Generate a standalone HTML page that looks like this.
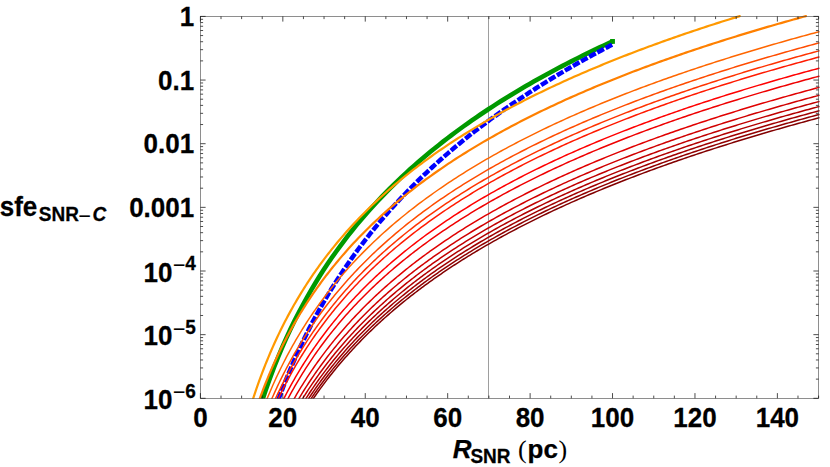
<!DOCTYPE html>
<html><head><meta charset="utf-8"><title>chart</title><style>html,body{margin:0;padding:0;background:#fff}svg{display:block}.t{font-family:"Liberation Sans",sans-serif}.t .s{font-family:"Liberation Serif",serif}</style></head><body>
<svg width="830" height="467" viewBox="0 0 830 467">
<rect width="830" height="467" fill="#fff"/>
<defs><clipPath id="cp"><rect x="199.40" y="15.10" width="620.30" height="383.70"/></clipPath></defs>
<line x1="488.50" y1="16.40" x2="488.50" y2="398.30" stroke="#9e9e9e" stroke-width="1"/>
<g clip-path="url(#cp)" fill="none">
<path d="M261.68 402.08 L265.81 389.76 L269.93 378.20 L274.05 367.30 L278.17 357.00 L282.29 347.22 L286.41 337.93 L290.53 329.08 L294.65 320.61 L298.78 312.52 L302.90 304.75 L307.02 297.29 L311.14 290.11 L315.26 283.20 L319.38 276.53 L323.50 270.08 L327.63 263.85 L331.75 257.82 L335.87 251.97 L339.99 246.30 L344.11 240.79 L348.23 235.44 L352.35 230.24 L356.47 225.17 L360.60 220.24 L364.72 215.43 L368.84 210.75 L372.96 206.17 L377.08 201.70 L381.20 197.34 L385.32 193.08 L389.45 188.90 L393.57 184.82 L397.69 180.83 L401.81 176.92 L405.93 173.08 L410.05 169.32 L414.17 165.64 L418.29 162.03 L422.42 158.48 L426.54 155.00 L430.66 151.58 L434.78 148.23 L438.90 144.93 L443.02 141.68 L447.14 138.50 L451.27 135.36 L455.39 132.28 L459.51 129.24 L463.63 126.26 L467.75 123.32 L471.87 120.42 L475.99 117.57 L480.11 114.76 L484.24 111.99 L488.36 109.27 L492.48 106.58 L496.60 103.93 L500.72 101.31 L504.84 98.73 L508.96 96.19 L513.09 93.68 L517.21 91.20 L521.33 88.75 L525.45 86.34 L529.57 83.95 L533.69 81.60 L537.81 79.27 L541.93 76.97 L546.06 74.70 L550.18 72.46 L554.30 70.24 L558.42 68.05 L562.54 65.89 L566.66 63.75 L570.78 61.63 L574.91 59.53 L579.03 57.46 L583.15 55.41 L587.27 53.39 L591.39 51.38 L595.51 49.40 L599.63 47.43 L603.75 45.49 L607.88 43.57 L612.00 41.66 L612.53 41.42" stroke="#009900" stroke-width="4.6"/>
<rect x="610.13" y="39.02" width="4.8" height="4.8" fill="#009900"/>
<path d="M277.68 401.69 L279.74 396.07 L281.80 390.60 L283.86 385.26 L285.92 380.06 L287.98 374.98 L290.04 370.01 L292.10 365.16 L294.16 360.42 L296.22 355.78 L298.28 351.24 L300.34 346.80 L302.40 342.44 L304.46 338.17 L306.52 333.99 L308.59 329.88 L310.65 325.86 L312.71 321.90 L314.77 318.02 L316.83 314.21 L318.89 310.47 L320.95 306.79 L323.01 303.17 L325.07 299.62 L327.13 296.12 L329.19 292.68 L331.25 289.29 L333.31 285.95 L335.37 282.67 L337.43 279.44 L339.50 276.25 L341.56 273.11 L343.62 270.02 L345.68 266.97 L347.74 263.97 L349.80 261.00 L351.86 258.08 L353.92 255.20 L355.98 252.35 L358.04 249.54 L360.10 246.77 L362.16 244.03 L364.22 241.33 L366.28 238.67 L368.34 236.03 L370.40 233.43 L372.47 230.86 L374.53 228.32 L376.59 225.81 L378.65 223.32 L380.71 220.87 L382.77 218.45 L384.83 216.05 L386.89 213.68 L388.95 211.33 L391.01 209.01 L393.07 206.72 L395.13 204.45 L397.19 202.20 L399.25 199.98 L401.31 197.78 L403.38 195.60 L405.44 193.45 L407.50 191.31 L409.56 189.20 L411.62 187.11 L413.68 185.03 L415.74 182.98 L417.80 180.95 L419.86 178.94 L421.92 176.94 L423.98 174.97 L426.04 173.01 L428.10 171.07 L430.16 169.15 L432.23 167.24 L434.29 165.35 L436.35 163.48 L438.41 161.62 L440.47 159.78 L442.53 157.96 L444.59 156.15 L446.65 154.36 L448.71 152.58 L450.77 150.82 L452.83 149.07 L454.89 147.33 L456.95 145.61 L459.01 143.90 L461.07 142.21 L463.13 140.53 L465.20 138.86 L467.26 137.21 L469.32 135.57 L471.38 133.94 L473.44 132.32 L475.50 130.72 L477.56 129.12 L479.62 127.54 L481.68 125.97 L483.74 124.42 L485.80 122.87 L487.86 121.34 L489.92 119.81 L491.98 118.30 L494.04 116.79 L496.11 115.30 L498.17 113.82 L500.23 112.35 L502.29 110.89 L504.35 109.44 L506.41 107.99 L508.47 106.56 L510.53 105.14 L512.59 103.72 L514.65 102.32 L516.71 100.93 L518.77 99.54 L520.83 98.16 L522.89 96.80 L524.96 95.44 L527.02 94.09 L529.08 92.74 L531.14 91.41 L533.20 90.08 L535.26 88.77 L537.32 87.46 L539.38 86.16 L541.44 84.86 L543.50 83.58 L545.56 82.30 L547.62 81.03 L549.68 79.77 L551.74 78.51 L553.80 77.26 L555.87 76.02 L557.93 74.79 L559.99 73.56 L562.05 72.34 L564.11 71.13 L566.17 69.93 L568.23 68.73 L570.29 67.53 L572.35 66.35 L574.41 65.17 L576.47 64.00 L578.53 62.83 L580.59 61.67 L582.65 60.52 L584.71 59.37 L586.77 58.23 L588.84 57.09 L590.90 55.96 L592.96 54.84 L595.02 53.72 L597.08 52.61 L599.14 51.51 L601.20 50.41 L603.26 49.31 L605.32 48.22 L607.38 47.14 L609.44 46.06 L611.50 44.99 L612.53 44.46" stroke="#0000ff" stroke-width="4.5" stroke-dasharray="7.45 1.84" stroke-dashoffset="7.1"/>
<path d="M251.96 402.30 L253.46 397.64 L254.96 393.11 L256.46 388.70 L257.96 384.40 L259.46 380.22 L260.96 376.13 L262.46 372.14 L263.96 368.25 L265.46 364.45 L266.96 360.73 L268.46 357.09 L269.96 353.53 L271.46 350.05 L272.96 346.64 L274.46 343.29 L275.96 340.02 L277.46 336.80 L278.96 333.65 L280.46 330.55 L281.96 327.52 L283.46 324.53 L284.96 321.60 L286.46 318.72 L287.96 315.89 L289.46 313.11 L290.96 310.38 L292.46 307.68 L293.96 305.03 L295.46 302.43 L296.96 299.86 L298.46 297.33 L299.96 294.84 L301.46 292.39 L302.96 289.97 L304.46 287.59 L305.96 285.24 L307.46 282.92 L308.96 280.64 L310.46 278.38 L311.96 276.16 L313.46 273.97 L314.96 271.80 L316.46 269.66 L317.96 267.55 L319.46 265.47 L320.96 263.41 L322.46 261.38 L323.96 259.37 L325.46 257.39 L326.96 255.43 L328.46 253.49 L329.96 251.58 L331.46 249.68 L333.96 246.58 L336.46 243.52 L338.96 240.53 L341.46 237.59 L343.96 234.69 L346.46 231.85 L348.96 229.06 L351.46 226.31 L353.96 223.61 L356.46 220.95 L358.96 218.33 L361.46 215.75 L363.96 213.22 L366.46 210.72 L368.96 208.25 L371.46 205.83 L373.96 203.44 L376.46 201.08 L378.96 198.76 L381.46 196.46 L383.96 194.20 L386.46 191.97 L388.96 189.77 L391.46 187.60 L393.96 185.46 L396.46 183.34 L398.96 181.25 L401.46 179.19 L403.96 177.15 L406.46 175.13 L408.96 173.14 L411.46 171.18 L413.96 169.24 L416.46 167.31 L418.96 165.42 L421.46 163.54 L423.96 161.68 L426.46 159.85 L428.96 158.03 L431.46 156.24 L433.96 154.46 L436.46 152.70 L438.96 150.96 L441.46 149.24 L443.96 147.54 L446.46 145.85 L448.96 144.18 L451.46 142.53 L453.96 140.89 L456.46 139.27 L458.96 137.67 L461.46 136.08 L463.96 134.51 L466.46 132.95 L468.96 131.40 L471.46 129.87 L473.96 128.35 L476.46 126.85 L478.96 125.36 L481.46 123.89 L483.96 122.42 L486.46 120.97 L488.96 119.54 L491.46 118.11 L493.96 116.70 L496.46 115.30 L498.96 113.91 L501.46 112.53 L503.96 111.16 L506.46 109.81 L508.96 108.46 L511.46 107.13 L513.96 105.80 L516.46 104.49 L518.96 103.19 L521.46 101.90 L523.96 100.62 L526.46 99.34 L528.96 98.08 L531.46 96.83 L533.96 95.58 L536.46 94.35 L538.96 93.12 L541.46 91.91 L543.96 90.70 L546.46 89.50 L548.96 88.31 L551.46 87.13 L553.96 85.96 L556.46 84.79 L558.96 83.64 L561.46 82.49 L563.96 81.35 L566.46 80.21 L568.96 79.09 L571.46 77.97 L573.96 76.86 L576.46 75.76 L578.96 74.66 L581.46 73.57 L583.96 72.49 L586.46 71.42 L588.96 70.35 L591.46 69.29 L593.96 68.23 L596.46 67.19 L598.96 66.14 L601.46 65.11 L603.96 64.08 L606.46 63.06 L608.96 62.05 L611.46 61.04 L613.96 60.03 L616.46 59.04 L618.96 58.05 L621.46 57.06 L623.96 56.08 L626.46 55.11 L628.96 54.14 L631.46 53.18 L633.96 52.22 L636.46 51.27 L638.96 50.32 L641.46 49.38 L643.96 48.45 L646.46 47.52 L648.96 46.59 L651.46 45.67 L653.96 44.76 L656.46 43.85 L658.96 42.95 L661.46 42.05 L663.96 41.15 L666.46 40.26 L668.96 39.38 L671.46 38.50 L673.96 37.62 L676.46 36.75 L678.96 35.88 L681.46 35.02 L683.96 34.16 L686.46 33.31 L688.96 32.46 L691.46 31.61 L693.96 30.77 L696.46 29.94 L698.96 29.11 L701.46 28.28 L703.96 27.45 L706.46 26.64 L708.96 25.82 L711.46 25.01 L713.96 24.20 L716.46 23.40 L718.96 22.60 L721.46 21.80 L723.96 21.01 L726.46 20.22 L728.96 19.44 L731.46 18.65 L733.96 17.88 L736.46 17.10 L738.96 16.33 L739.72 16.10" stroke="#ff9900" stroke-width="2.2" stroke-linecap="round"/>
<path d="M258.41 402.30 L259.91 398.14 L261.41 394.09 L262.91 390.13 L264.41 386.26 L265.91 382.49 L267.41 378.79 L268.91 375.18 L270.41 371.64 L271.91 368.18 L273.41 364.79 L274.91 361.47 L276.41 358.21 L277.91 355.01 L279.41 351.88 L280.91 348.80 L282.41 345.78 L283.91 342.81 L285.41 339.90 L286.91 337.03 L288.41 334.22 L289.91 331.45 L291.41 328.73 L292.91 326.05 L294.41 323.41 L295.91 320.81 L297.41 318.26 L298.91 315.74 L300.41 313.26 L301.91 310.82 L303.41 308.41 L304.91 306.04 L306.41 303.70 L307.91 301.40 L309.41 299.12 L310.91 296.88 L312.41 294.66 L313.91 292.48 L315.41 290.32 L316.91 288.19 L318.41 286.09 L319.91 284.01 L321.41 281.96 L322.91 279.94 L324.41 277.94 L325.91 275.96 L327.41 274.01 L328.91 272.08 L330.41 270.17 L331.91 268.28 L333.41 266.42 L334.91 264.57 L336.41 262.75 L337.91 260.94 L339.41 259.16 L340.91 257.39 L342.41 255.64 L343.91 253.91 L345.41 252.20 L346.91 250.51 L348.41 248.83 L350.91 246.07 L353.41 243.36 L355.91 240.69 L358.41 238.06 L360.91 235.48 L363.41 232.93 L365.91 230.43 L368.41 227.95 L370.91 225.52 L373.41 223.12 L375.91 220.76 L378.41 218.43 L380.91 216.13 L383.41 213.86 L385.91 211.62 L388.41 209.42 L390.91 207.24 L393.41 205.09 L395.91 202.96 L398.41 200.87 L400.91 198.80 L403.41 196.76 L405.91 194.74 L408.41 192.74 L410.91 190.77 L413.41 188.82 L415.91 186.90 L418.41 184.99 L420.91 183.11 L423.41 181.25 L425.91 179.41 L428.41 177.59 L430.91 175.79 L433.41 174.01 L435.91 172.25 L438.41 170.51 L440.91 168.78 L443.41 167.07 L445.91 165.38 L448.41 163.71 L450.91 162.05 L453.41 160.41 L455.91 158.79 L458.41 157.18 L460.91 155.59 L463.41 154.01 L465.91 152.45 L468.41 150.90 L470.91 149.37 L473.41 147.85 L475.91 146.34 L478.41 144.85 L480.91 143.37 L483.41 141.91 L485.91 140.45 L488.41 139.01 L490.91 137.58 L493.41 136.17 L495.91 134.76 L498.41 133.37 L500.91 131.99 L503.41 130.62 L505.91 129.26 L508.41 127.92 L510.91 126.58 L513.41 125.26 L515.91 123.94 L518.41 122.64 L520.91 121.34 L523.41 120.06 L525.91 118.78 L528.41 117.52 L530.91 116.26 L533.41 115.02 L535.91 113.78 L538.41 112.55 L540.91 111.34 L543.41 110.13 L545.91 108.93 L548.41 107.73 L550.91 106.55 L553.41 105.38 L555.91 104.21 L558.41 103.05 L560.91 101.90 L563.41 100.76 L565.91 99.62 L568.41 98.49 L570.91 97.38 L573.41 96.26 L575.91 95.16 L578.41 94.06 L580.91 92.97 L583.41 91.89 L585.91 90.81 L588.41 89.74 L590.91 88.68 L593.41 87.63 L595.91 86.58 L598.41 85.53 L600.91 84.50 L603.41 83.47 L605.91 82.45 L608.41 81.43 L610.91 80.42 L613.41 79.41 L615.91 78.42 L618.41 77.42 L620.91 76.44 L623.41 75.46 L625.91 74.48 L628.41 73.51 L630.91 72.55 L633.41 71.59 L635.91 70.64 L638.41 69.69 L640.91 68.75 L643.41 67.81 L645.91 66.88 L648.41 65.96 L650.91 65.04 L653.41 64.12 L655.91 63.21 L658.41 62.31 L660.91 61.40 L663.41 60.51 L665.91 59.62 L668.41 58.73 L670.91 57.85 L673.41 56.97 L675.91 56.10 L678.41 55.23 L680.91 54.37 L683.41 53.51 L685.91 52.66 L688.41 51.81 L690.91 50.96 L693.41 50.12 L695.91 49.28 L698.41 48.45 L700.91 47.62 L703.41 46.80 L705.91 45.98 L708.41 45.16 L710.91 44.35 L713.41 43.54 L715.91 42.73 L718.41 41.93 L720.91 41.14 L723.41 40.34 L725.91 39.55 L728.41 38.77 L730.91 37.99 L733.41 37.21 L735.91 36.43 L738.41 35.66 L740.91 34.90 L743.41 34.13 L745.91 33.37 L748.41 32.62 L750.91 31.86 L753.41 31.11 L755.91 30.37 L758.41 29.62 L760.91 28.88 L763.41 28.15 L765.91 27.41 L768.41 26.68 L770.91 25.95 L773.41 25.23 L775.91 24.51 L778.41 23.79 L780.91 23.08 L783.41 22.37 L785.91 21.66 L788.41 20.95 L790.91 20.25 L793.41 19.55 L795.91 18.85 L798.41 18.16 L800.91 17.47 L803.41 16.78 L805.90 16.10" stroke="#ff8000" stroke-width="2.2" stroke-linecap="round"/>
<path d="M265.65 402.30 L267.15 398.59 L268.65 394.96 L270.15 391.42 L271.65 387.94 L273.15 384.54 L274.65 381.20 L276.15 377.93 L277.65 374.73 L279.15 371.58 L280.65 368.49 L282.15 365.46 L283.65 362.49 L285.15 359.56 L286.65 356.69 L288.15 353.87 L289.65 351.09 L291.15 348.36 L292.65 345.67 L294.15 343.03 L295.65 340.42 L297.15 337.86 L298.65 335.34 L300.15 332.85 L301.65 330.40 L303.15 327.99 L304.65 325.61 L306.15 323.27 L307.65 320.96 L309.15 318.68 L310.65 316.43 L312.15 314.21 L313.65 312.02 L315.15 309.85 L316.65 307.72 L318.15 305.61 L319.65 303.53 L321.15 301.48 L322.65 299.45 L324.15 297.45 L325.65 295.46 L327.15 293.51 L328.65 291.57 L330.15 289.66 L331.65 287.77 L333.15 285.90 L334.65 284.05 L336.15 282.22 L337.65 280.42 L339.15 278.63 L340.65 276.86 L342.15 275.11 L343.65 273.37 L345.15 271.66 L346.65 269.96 L348.15 268.28 L349.65 266.62 L351.15 264.97 L352.65 263.34 L354.15 261.73 L355.65 260.13 L357.15 258.55 L358.65 256.98 L360.15 255.42 L361.65 253.88 L363.15 252.36 L364.65 250.85 L366.15 249.35 L368.65 246.88 L371.15 244.45 L373.65 242.06 L376.15 239.69 L378.65 237.37 L381.15 235.07 L383.65 232.81 L386.15 230.57 L388.65 228.37 L391.15 226.19 L393.65 224.04 L396.15 221.92 L398.65 219.83 L401.15 217.76 L403.65 215.72 L406.15 213.71 L408.65 211.71 L411.15 209.74 L413.65 207.80 L416.15 205.87 L418.65 203.97 L421.15 202.09 L423.65 200.24 L426.15 198.40 L428.65 196.58 L431.15 194.78 L433.65 193.00 L436.15 191.24 L438.65 189.50 L441.15 187.78 L443.65 186.07 L446.15 184.38 L448.65 182.71 L451.15 181.06 L453.65 179.42 L456.15 177.80 L458.65 176.19 L461.15 174.60 L463.65 173.02 L466.15 171.46 L468.65 169.92 L471.15 168.38 L473.65 166.86 L476.15 165.36 L478.65 163.87 L481.15 162.39 L483.65 160.93 L486.15 159.47 L488.65 158.04 L491.15 156.61 L493.65 155.19 L496.15 153.79 L498.65 152.40 L501.15 151.02 L503.65 149.65 L506.15 148.30 L508.65 146.95 L511.15 145.62 L513.65 144.29 L516.15 142.98 L518.65 141.67 L521.15 140.38 L523.65 139.10 L526.15 137.82 L528.65 136.56 L531.15 135.31 L533.65 134.06 L536.15 132.82 L538.65 131.60 L541.15 130.38 L543.65 129.17 L546.15 127.97 L548.65 126.78 L551.15 125.60 L553.65 124.42 L556.15 123.26 L558.65 122.10 L561.15 120.95 L563.65 119.81 L566.15 118.67 L568.65 117.55 L571.15 116.43 L573.65 115.32 L576.15 114.21 L578.65 113.12 L581.15 112.03 L583.65 110.95 L586.15 109.87 L588.65 108.80 L591.15 107.74 L593.65 106.69 L596.15 105.64 L598.65 104.60 L601.15 103.56 L603.65 102.53 L606.15 101.51 L608.65 100.49 L611.15 99.48 L613.65 98.48 L616.15 97.48 L618.65 96.49 L621.15 95.50 L623.65 94.52 L626.15 93.55 L628.65 92.58 L631.15 91.62 L633.65 90.66 L636.15 89.71 L638.65 88.76 L641.15 87.82 L643.65 86.89 L646.15 85.96 L648.65 85.03 L651.15 84.11 L653.65 83.20 L656.15 82.28 L658.65 81.38 L661.15 80.48 L663.65 79.58 L666.15 78.69 L668.65 77.81 L671.15 76.93 L673.65 76.05 L676.15 75.18 L678.65 74.31 L681.15 73.45 L683.65 72.59 L686.15 71.74 L688.65 70.89 L691.15 70.04 L693.65 69.20 L696.15 68.36 L698.65 67.53 L701.15 66.70 L703.65 65.88 L706.15 65.06 L708.65 64.24 L711.15 63.43 L713.65 62.62 L716.15 61.82 L718.65 61.02 L721.15 60.22 L723.65 59.43 L726.15 58.64 L728.65 57.85 L731.15 57.07 L733.65 56.30 L736.15 55.52 L738.65 54.75 L741.15 53.98 L743.65 53.22 L746.15 52.46 L748.65 51.70 L751.15 50.95 L753.65 50.20 L756.15 49.45 L758.65 48.71 L761.15 47.97 L763.65 47.24 L766.15 46.50 L768.65 45.77 L771.15 45.05 L773.65 44.32 L776.15 43.60 L778.65 42.88 L781.15 42.17 L783.65 41.46 L786.15 40.75 L788.65 40.05 L791.15 39.34 L793.65 38.65 L796.15 37.95 L798.65 37.26 L801.15 36.57 L803.65 35.88 L806.15 35.19 L808.65 34.51 L811.15 33.83 L813.65 33.16 L816.15 32.48 L819.10 31.69" stroke="#ff6600" stroke-width="1.5" stroke-linecap="round"/>
<path d="M270.28 402.30 L271.78 398.83 L273.28 395.43 L274.78 392.11 L276.28 388.84 L277.78 385.64 L279.28 382.50 L280.78 379.42 L282.28 376.39 L283.78 373.42 L285.28 370.50 L286.78 367.64 L288.28 364.82 L289.78 362.04 L291.28 359.32 L292.78 356.63 L294.28 353.99 L295.78 351.39 L297.28 348.84 L298.78 346.32 L300.28 343.83 L301.78 341.39 L303.28 338.98 L304.78 336.60 L306.28 334.26 L307.78 331.95 L309.28 329.67 L310.78 327.43 L312.28 325.21 L313.78 323.02 L315.28 320.86 L316.78 318.73 L318.28 316.63 L319.78 314.55 L321.28 312.50 L322.78 310.47 L324.28 308.47 L325.78 306.49 L327.28 304.54 L328.78 302.60 L330.28 300.69 L331.78 298.80 L333.28 296.94 L334.78 295.09 L336.28 293.26 L337.78 291.46 L339.28 289.67 L340.78 287.90 L342.28 286.15 L343.78 284.42 L345.28 282.71 L346.78 281.02 L348.28 279.34 L349.78 277.68 L351.28 276.03 L352.78 274.40 L354.28 272.79 L355.78 271.19 L357.28 269.61 L358.78 268.04 L360.28 266.49 L361.78 264.95 L363.28 263.43 L364.78 261.92 L366.28 260.42 L367.78 258.94 L369.28 257.47 L370.78 256.01 L372.28 254.56 L373.78 253.13 L375.28 251.71 L376.78 250.30 L378.28 248.91 L380.78 246.61 L383.28 244.34 L385.78 242.10 L388.28 239.89 L390.78 237.71 L393.28 235.56 L395.78 233.44 L398.28 231.34 L400.78 229.27 L403.28 227.22 L405.78 225.20 L408.28 223.21 L410.78 221.24 L413.28 219.29 L415.78 217.36 L418.28 215.46 L420.78 213.57 L423.28 211.71 L425.78 209.87 L428.28 208.05 L430.78 206.25 L433.28 204.47 L435.78 202.70 L438.28 200.96 L440.78 199.23 L443.28 197.53 L445.78 195.83 L448.28 194.16 L450.78 192.50 L453.28 190.86 L455.78 189.24 L458.28 187.63 L460.78 186.04 L463.28 184.46 L465.78 182.90 L468.28 181.35 L470.78 179.81 L473.28 178.29 L475.78 176.79 L478.28 175.29 L480.78 173.81 L483.28 172.35 L485.78 170.89 L488.28 169.45 L490.78 168.02 L493.28 166.61 L495.78 165.20 L498.28 163.81 L500.78 162.43 L503.28 161.06 L505.78 159.70 L508.28 158.35 L510.78 157.02 L513.28 155.69 L515.78 154.37 L518.28 153.07 L520.78 151.77 L523.28 150.49 L525.78 149.22 L528.28 147.95 L530.78 146.69 L533.28 145.45 L535.78 144.21 L538.28 142.98 L540.78 141.76 L543.28 140.56 L545.78 139.35 L548.28 138.16 L550.78 136.98 L553.28 135.80 L555.78 134.63 L558.28 133.48 L560.78 132.32 L563.28 131.18 L565.78 130.05 L568.28 128.92 L570.78 127.80 L573.28 126.69 L575.78 125.58 L578.28 124.48 L580.78 123.39 L583.28 122.31 L585.78 121.23 L588.28 120.16 L590.78 119.10 L593.28 118.05 L595.78 117.00 L598.28 115.95 L600.78 114.92 L603.28 113.89 L605.78 112.87 L608.28 111.85 L610.78 110.84 L613.28 109.83 L615.78 108.83 L618.28 107.84 L620.78 106.86 L623.28 105.87 L625.78 104.90 L628.28 103.93 L630.78 102.97 L633.28 102.01 L635.78 101.06 L638.28 100.11 L640.78 99.17 L643.28 98.23 L645.78 97.30 L648.28 96.37 L650.78 95.45 L653.28 94.54 L655.78 93.62 L658.28 92.72 L660.78 91.82 L663.28 90.92 L665.78 90.03 L668.28 89.14 L670.78 88.26 L673.28 87.38 L675.78 86.51 L678.28 85.64 L680.78 84.78 L683.28 83.92 L685.78 83.07 L688.28 82.22 L690.78 81.37 L693.28 80.53 L695.78 79.69 L698.28 78.86 L700.78 78.03 L703.28 77.21 L705.78 76.39 L708.28 75.57 L710.78 74.76 L713.28 73.95 L715.78 73.14 L718.28 72.34 L720.78 71.54 L723.28 70.75 L725.78 69.96 L728.28 69.18 L730.78 68.39 L733.28 67.62 L735.78 66.84 L738.28 66.07 L740.78 65.30 L743.28 64.54 L745.78 63.78 L748.28 63.02 L750.78 62.27 L753.28 61.52 L755.78 60.77 L758.28 60.03 L760.78 59.29 L763.28 58.55 L765.78 57.82 L768.28 57.09 L770.78 56.36 L773.28 55.64 L775.78 54.91 L778.28 54.20 L780.78 53.48 L783.28 52.77 L785.78 52.06 L788.28 51.36 L790.78 50.65 L793.28 49.95 L795.78 49.26 L798.28 48.56 L800.78 47.87 L803.28 47.19 L805.78 46.50 L808.28 45.82 L810.78 45.14 L813.28 44.46 L815.78 43.79 L819.10 42.90" stroke="#ff4c00" stroke-width="1.5" stroke-linecap="round"/>
<path d="M273.77 402.30 L275.27 398.99 L276.77 395.75 L278.27 392.57 L279.77 389.45 L281.27 386.39 L282.77 383.38 L284.27 380.42 L285.77 377.52 L287.27 374.67 L288.77 371.86 L290.27 369.11 L291.77 366.39 L293.27 363.73 L294.77 361.10 L296.27 358.51 L297.77 355.97 L299.27 353.46 L300.77 350.99 L302.27 348.56 L303.77 346.16 L305.27 343.79 L306.77 341.46 L308.27 339.16 L309.77 336.90 L311.27 334.66 L312.77 332.45 L314.27 330.27 L315.77 328.12 L317.27 326.00 L318.77 323.91 L320.27 321.84 L321.77 319.79 L323.27 317.77 L324.77 315.78 L326.27 313.81 L327.77 311.86 L329.27 309.93 L330.77 308.03 L332.27 306.15 L333.77 304.29 L335.27 302.45 L336.77 300.63 L338.27 298.83 L339.77 297.05 L341.27 295.29 L342.77 293.54 L344.27 291.82 L345.77 290.11 L347.27 288.42 L348.77 286.75 L350.27 285.09 L351.77 283.45 L353.27 281.83 L354.77 280.22 L356.27 278.63 L357.77 277.05 L359.27 275.49 L360.77 273.94 L362.27 272.41 L363.77 270.89 L365.27 269.38 L366.77 267.89 L368.27 266.41 L369.77 264.94 L371.27 263.49 L372.77 262.05 L374.27 260.62 L375.77 259.21 L377.27 257.80 L378.77 256.41 L380.27 255.03 L381.77 253.66 L383.27 252.30 L384.77 250.96 L386.27 249.62 L388.77 247.42 L391.27 245.24 L393.77 243.10 L396.27 240.98 L398.77 238.89 L401.27 236.82 L403.77 234.78 L406.27 232.77 L408.77 230.77 L411.27 228.81 L413.77 226.86 L416.27 224.94 L418.77 223.04 L421.27 221.16 L423.77 219.30 L426.27 217.47 L428.77 215.65 L431.27 213.85 L433.77 212.07 L436.27 210.32 L438.77 208.57 L441.27 206.85 L443.77 205.15 L446.27 203.46 L448.77 201.79 L451.27 200.14 L453.77 198.50 L456.27 196.88 L458.77 195.27 L461.27 193.68 L463.77 192.11 L466.27 190.55 L468.77 189.00 L471.27 187.47 L473.77 185.95 L476.27 184.45 L478.77 182.96 L481.27 181.48 L483.77 180.01 L486.27 178.56 L488.77 177.12 L491.27 175.70 L493.77 174.28 L496.27 172.88 L498.77 171.49 L501.27 170.11 L503.77 168.75 L506.27 167.39 L508.77 166.04 L511.27 164.71 L513.77 163.39 L516.27 162.07 L518.77 160.77 L521.27 159.48 L523.77 158.19 L526.27 156.92 L528.77 155.66 L531.27 154.40 L533.77 153.16 L536.27 151.92 L538.77 150.70 L541.27 149.48 L543.77 148.27 L546.27 147.07 L548.77 145.88 L551.27 144.70 L553.77 143.53 L556.27 142.36 L558.77 141.20 L561.27 140.05 L563.77 138.91 L566.27 137.78 L568.77 136.65 L571.27 135.53 L573.77 134.42 L576.27 133.32 L578.77 132.22 L581.27 131.13 L583.77 130.05 L586.27 128.98 L588.77 127.91 L591.27 126.85 L593.77 125.79 L596.27 124.75 L598.77 123.70 L601.27 122.67 L603.77 121.64 L606.27 120.62 L608.77 119.60 L611.27 118.59 L613.77 117.59 L616.27 116.59 L618.77 115.60 L621.27 114.62 L623.77 113.64 L626.27 112.66 L628.77 111.69 L631.27 110.73 L633.77 109.77 L636.27 108.82 L638.77 107.88 L641.27 106.94 L643.77 106.00 L646.27 105.07 L648.77 104.14 L651.27 103.22 L653.77 102.31 L656.27 101.40 L658.77 100.50 L661.27 99.60 L663.77 98.70 L666.27 97.81 L668.77 96.92 L671.27 96.04 L673.77 95.17 L676.27 94.30 L678.77 93.43 L681.27 92.57 L683.77 91.71 L686.27 90.85 L688.77 90.00 L691.27 89.16 L693.77 88.32 L696.27 87.48 L698.77 86.65 L701.27 85.82 L703.77 85.00 L706.27 84.18 L708.77 83.36 L711.27 82.55 L713.77 81.74 L716.27 80.94 L718.77 80.14 L721.27 79.34 L723.77 78.55 L726.27 77.76 L728.77 76.98 L731.27 76.19 L733.77 75.42 L736.27 74.64 L738.77 73.87 L741.27 73.11 L743.77 72.34 L746.27 71.58 L748.77 70.83 L751.27 70.07 L753.77 69.32 L756.27 68.58 L758.77 67.84 L761.27 67.10 L763.77 66.36 L766.27 65.63 L768.77 64.90 L771.27 64.17 L773.77 63.45 L776.27 62.73 L778.77 62.01 L781.27 61.30 L783.77 60.58 L786.27 59.88 L788.77 59.17 L791.27 58.47 L793.77 57.77 L796.27 57.08 L798.77 56.38 L801.27 55.69 L803.77 55.00 L806.27 54.32 L808.77 53.64 L811.27 52.96 L813.77 52.28 L816.27 51.61 L819.10 50.85" stroke="#ff3300" stroke-width="1.5" stroke-linecap="round"/>
<path d="M276.59 402.30 L278.09 399.11 L279.59 395.98 L281.09 392.91 L282.59 389.90 L284.09 386.94 L285.59 384.03 L287.09 381.17 L288.59 378.36 L290.09 375.60 L291.59 372.88 L293.09 370.21 L294.59 367.58 L296.09 364.99 L297.59 362.44 L299.09 359.92 L300.59 357.45 L302.09 355.01 L303.59 352.61 L305.09 350.24 L306.59 347.91 L308.09 345.60 L309.59 343.33 L311.09 341.09 L312.59 338.88 L314.09 336.70 L315.59 334.55 L317.09 332.42 L318.59 330.32 L320.09 328.25 L321.59 326.20 L323.09 324.18 L324.59 322.18 L326.09 320.21 L327.59 318.26 L329.09 316.33 L330.59 314.42 L332.09 312.54 L333.59 310.68 L335.09 308.83 L336.59 307.01 L338.09 305.21 L339.59 303.43 L341.09 301.66 L342.59 299.92 L344.09 298.19 L345.59 296.48 L347.09 294.79 L348.59 293.11 L350.09 291.46 L351.59 289.81 L353.09 288.19 L354.59 286.58 L356.09 284.99 L357.59 283.41 L359.09 281.84 L360.59 280.29 L362.09 278.76 L363.59 277.24 L365.09 275.73 L366.59 274.23 L368.09 272.75 L369.59 271.29 L371.09 269.83 L372.59 268.39 L374.09 266.96 L375.59 265.54 L377.09 264.14 L378.59 262.74 L380.09 261.36 L381.59 259.99 L383.09 258.63 L384.59 257.28 L386.09 255.95 L387.59 254.62 L389.09 253.31 L390.59 252.00 L392.09 250.70 L393.59 249.42 L396.09 247.30 L398.59 245.20 L401.09 243.14 L403.59 241.09 L406.09 239.08 L408.59 237.08 L411.09 235.11 L413.59 233.17 L416.09 231.24 L418.59 229.34 L421.09 227.46 L423.59 225.60 L426.09 223.77 L428.59 221.95 L431.09 220.15 L433.59 218.37 L436.09 216.61 L438.59 214.87 L441.09 213.14 L443.59 211.44 L446.09 209.75 L448.59 208.08 L451.09 206.42 L453.59 204.78 L456.09 203.16 L458.59 201.55 L461.09 199.96 L463.59 198.39 L466.09 196.82 L468.59 195.28 L471.09 193.74 L473.59 192.23 L476.09 190.72 L478.59 189.23 L481.09 187.75 L483.59 186.29 L486.09 184.83 L488.59 183.40 L491.09 181.97 L493.59 180.55 L496.09 179.15 L498.59 177.76 L501.09 176.38 L503.59 175.01 L506.09 173.65 L508.59 172.31 L511.09 170.97 L513.59 169.65 L516.09 168.33 L518.59 167.03 L521.09 165.74 L523.59 164.45 L526.09 163.18 L528.59 161.92 L531.09 160.66 L533.59 159.42 L536.09 158.18 L538.59 156.95 L541.09 155.74 L543.59 154.53 L546.09 153.33 L548.59 152.14 L551.09 150.95 L553.59 149.78 L556.09 148.61 L558.59 147.45 L561.09 146.30 L563.59 145.16 L566.09 144.03 L568.59 142.90 L571.09 141.78 L573.59 140.67 L576.09 139.57 L578.59 138.47 L581.09 137.38 L583.59 136.30 L586.09 135.22 L588.59 134.15 L591.09 133.09 L593.59 132.04 L596.09 130.99 L598.59 129.95 L601.09 128.91 L603.59 127.88 L606.09 126.86 L608.59 125.84 L611.09 124.83 L613.59 123.83 L616.09 122.83 L618.59 121.84 L621.09 120.85 L623.59 119.87 L626.09 118.90 L628.59 117.93 L631.09 116.97 L633.59 116.01 L636.09 115.06 L638.59 114.11 L641.09 113.17 L643.59 112.24 L646.09 111.30 L648.59 110.38 L651.09 109.46 L653.59 108.54 L656.09 107.63 L658.59 106.73 L661.09 105.83 L663.59 104.93 L666.09 104.04 L668.59 103.16 L671.09 102.27 L673.59 101.40 L676.09 100.53 L678.59 99.66 L681.09 98.80 L683.59 97.94 L686.09 97.08 L688.59 96.23 L691.09 95.39 L693.59 94.55 L696.09 93.71 L698.59 92.88 L701.09 92.05 L703.59 91.23 L706.09 90.41 L708.59 89.59 L711.09 88.78 L713.59 87.97 L716.09 87.16 L718.59 86.36 L721.09 85.57 L723.59 84.77 L726.09 83.99 L728.59 83.20 L731.09 82.42 L733.59 81.64 L736.09 80.87 L738.59 80.10 L741.09 79.33 L743.59 78.57 L746.09 77.81 L748.59 77.05 L751.09 76.30 L753.59 75.55 L756.09 74.80 L758.59 74.06 L761.09 73.32 L763.59 72.58 L766.09 71.85 L768.59 71.12 L771.09 70.39 L773.59 69.67 L776.09 68.95 L778.59 68.23 L781.09 67.51 L783.59 66.80 L786.09 66.10 L788.59 65.39 L791.09 64.69 L793.59 63.99 L796.09 63.29 L798.59 62.60 L801.09 61.91 L803.59 61.22 L806.09 60.54 L808.59 59.85 L811.09 59.18 L813.59 58.50 L816.09 57.83 L819.10 57.02" stroke="#ff1a00" stroke-width="1.5" stroke-linecap="round"/>
<path d="M282.00 402.30 L283.50 399.32 L285.00 396.39 L286.50 393.51 L288.00 390.68 L289.50 387.90 L291.00 385.17 L292.50 382.47 L294.00 379.83 L295.50 377.22 L297.00 374.65 L298.50 372.13 L300.00 369.64 L301.50 367.18 L303.00 364.77 L304.50 362.39 L306.00 360.04 L307.50 357.72 L309.00 355.44 L310.50 353.19 L312.00 350.96 L313.50 348.77 L315.00 346.61 L316.50 344.47 L318.00 342.36 L319.50 340.28 L321.00 338.22 L322.50 336.19 L324.00 334.18 L325.50 332.20 L327.00 330.24 L328.50 328.30 L330.00 326.39 L331.50 324.49 L333.00 322.62 L334.50 320.77 L336.00 318.94 L337.50 317.13 L339.00 315.34 L340.50 313.57 L342.00 311.82 L343.50 310.08 L345.00 308.37 L346.50 306.67 L348.00 304.99 L349.50 303.32 L351.00 301.67 L352.50 300.04 L354.00 298.43 L355.50 296.83 L357.00 295.24 L358.50 293.67 L360.00 292.11 L361.50 290.57 L363.00 289.05 L364.50 287.53 L366.00 286.03 L367.50 284.55 L369.00 283.08 L370.50 281.62 L372.00 280.17 L373.50 278.74 L375.00 277.31 L376.50 275.90 L378.00 274.51 L379.50 273.12 L381.00 271.74 L382.50 270.38 L384.00 269.03 L385.50 267.69 L387.00 266.36 L388.50 265.04 L390.00 263.73 L391.50 262.43 L393.00 261.14 L394.50 259.86 L396.00 258.59 L397.50 257.33 L399.00 256.08 L400.50 254.84 L402.00 253.60 L403.50 252.38 L405.00 251.17 L406.50 249.96 L409.00 247.97 L411.50 246.01 L414.00 244.06 L416.50 242.14 L419.00 240.25 L421.50 238.37 L424.00 236.51 L426.50 234.68 L429.00 232.86 L431.50 231.07 L434.00 229.29 L436.50 227.53 L439.00 225.80 L441.50 224.07 L444.00 222.37 L446.50 220.69 L449.00 219.02 L451.50 217.36 L454.00 215.73 L456.50 214.11 L459.00 212.50 L461.50 210.91 L464.00 209.34 L466.50 207.78 L469.00 206.24 L471.50 204.71 L474.00 203.19 L476.50 201.69 L479.00 200.20 L481.50 198.72 L484.00 197.26 L486.50 195.81 L489.00 194.37 L491.50 192.95 L494.00 191.53 L496.50 190.13 L499.00 188.74 L501.50 187.37 L504.00 186.00 L506.50 184.64 L509.00 183.30 L511.50 181.97 L514.00 180.64 L516.50 179.33 L519.00 178.03 L521.50 176.74 L524.00 175.45 L526.50 174.18 L529.00 172.92 L531.50 171.67 L534.00 170.42 L536.50 169.19 L539.00 167.96 L541.50 166.75 L544.00 165.54 L546.50 164.34 L549.00 163.15 L551.50 161.97 L554.00 160.80 L556.50 159.63 L559.00 158.48 L561.50 157.33 L564.00 156.19 L566.50 155.05 L569.00 153.93 L571.50 152.81 L574.00 151.70 L576.50 150.60 L579.00 149.50 L581.50 148.41 L584.00 147.33 L586.50 146.26 L589.00 145.19 L591.50 144.13 L594.00 143.08 L596.50 142.03 L599.00 140.99 L601.50 139.95 L604.00 138.93 L606.50 137.90 L609.00 136.89 L611.50 135.88 L614.00 134.88 L616.50 133.88 L619.00 132.89 L621.50 131.90 L624.00 130.92 L626.50 129.95 L629.00 128.98 L631.50 128.02 L634.00 127.06 L636.50 126.11 L639.00 125.17 L641.50 124.23 L644.00 123.29 L646.50 122.36 L649.00 121.44 L651.50 120.52 L654.00 119.60 L656.50 118.69 L659.00 117.79 L661.50 116.89 L664.00 116.00 L666.50 115.11 L669.00 114.22 L671.50 113.34 L674.00 112.46 L676.50 111.59 L679.00 110.73 L681.50 109.86 L684.00 109.01 L686.50 108.15 L689.00 107.31 L691.50 106.46 L694.00 105.62 L696.50 104.78 L699.00 103.95 L701.50 103.12 L704.00 102.30 L706.50 101.48 L709.00 100.67 L711.50 99.85 L714.00 99.05 L716.50 98.24 L719.00 97.44 L721.50 96.65 L724.00 95.86 L726.50 95.07 L729.00 94.28 L731.50 93.50 L734.00 92.72 L736.50 91.95 L739.00 91.18 L741.50 90.41 L744.00 89.65 L746.50 88.89 L749.00 88.14 L751.50 87.38 L754.00 86.63 L756.50 85.89 L759.00 85.15 L761.50 84.41 L764.00 83.67 L766.50 82.94 L769.00 82.21 L771.50 81.48 L774.00 80.76 L776.50 80.04 L779.00 79.32 L781.50 78.61 L784.00 77.90 L786.50 77.19 L789.00 76.49 L791.50 75.78 L794.00 75.08 L796.50 74.39 L799.00 73.70 L801.50 73.01 L804.00 72.32 L806.50 71.63 L809.00 70.95 L811.50 70.27 L814.00 69.60 L816.50 68.93 L819.10 68.23" stroke="#ff0000" stroke-width="1.5" stroke-linecap="round"/>
<path d="M286.06 402.30 L287.56 399.46 L289.06 396.66 L290.56 393.91 L292.06 391.21 L293.56 388.55 L295.06 385.93 L296.56 383.35 L298.06 380.81 L299.56 378.31 L301.06 375.85 L302.56 373.42 L304.06 371.03 L305.56 368.67 L307.06 366.35 L308.56 364.06 L310.06 361.79 L311.56 359.56 L313.06 357.36 L314.56 355.19 L316.06 353.04 L317.56 350.93 L319.06 348.84 L320.56 346.77 L322.06 344.73 L323.56 342.72 L325.06 340.73 L326.56 338.76 L328.06 336.82 L329.56 334.90 L331.06 333.00 L332.56 331.12 L334.06 329.26 L335.56 327.43 L337.06 325.61 L338.56 323.82 L340.06 322.04 L341.56 320.28 L343.06 318.54 L344.56 316.82 L346.06 315.12 L347.56 313.43 L349.06 311.76 L350.56 310.11 L352.06 308.47 L353.56 306.85 L355.06 305.24 L356.56 303.65 L358.06 302.08 L359.56 300.52 L361.06 298.97 L362.56 297.44 L364.06 295.93 L365.56 294.42 L367.06 292.93 L368.56 291.46 L370.06 289.99 L371.56 288.54 L373.06 287.11 L374.56 285.68 L376.06 284.27 L377.56 282.86 L379.06 281.47 L380.56 280.10 L382.06 278.73 L383.56 277.37 L385.06 276.03 L386.56 274.70 L388.06 273.37 L389.56 272.06 L391.06 270.76 L392.56 269.46 L394.06 268.18 L395.56 266.91 L397.06 265.65 L398.56 264.39 L400.06 263.15 L401.56 261.92 L403.06 260.69 L404.56 259.47 L406.06 258.27 L407.56 257.07 L409.06 255.88 L410.56 254.69 L412.06 253.52 L413.56 252.36 L415.06 251.20 L416.56 250.05 L418.06 248.91 L420.56 247.02 L423.06 245.16 L425.56 243.32 L428.06 241.49 L430.56 239.69 L433.06 237.91 L435.56 236.14 L438.06 234.40 L440.56 232.67 L443.06 230.96 L445.56 229.27 L448.06 227.59 L450.56 225.93 L453.06 224.29 L455.56 222.67 L458.06 221.06 L460.56 219.46 L463.06 217.88 L465.56 216.32 L468.06 214.77 L470.56 213.23 L473.06 211.71 L475.56 210.20 L478.06 208.71 L480.56 207.23 L483.06 205.76 L485.56 204.30 L488.06 202.86 L490.56 201.43 L493.06 200.02 L495.56 198.61 L498.06 197.22 L500.56 195.83 L503.06 194.46 L505.56 193.10 L508.06 191.76 L510.56 190.42 L513.06 189.09 L515.56 187.77 L518.06 186.47 L520.56 185.17 L523.06 183.89 L525.56 182.61 L528.06 181.35 L530.56 180.09 L533.06 178.84 L535.56 177.60 L538.06 176.38 L540.56 175.16 L543.06 173.95 L545.56 172.74 L548.06 171.55 L550.56 170.37 L553.06 169.19 L555.56 168.02 L558.06 166.86 L560.56 165.71 L563.06 164.57 L565.56 163.43 L568.06 162.30 L570.56 161.18 L573.06 160.07 L575.56 158.96 L578.06 157.86 L580.56 156.77 L583.06 155.69 L585.56 154.61 L588.06 153.54 L590.56 152.48 L593.06 151.42 L595.56 150.37 L598.06 149.33 L600.56 148.29 L603.06 147.26 L605.56 146.24 L608.06 145.22 L610.56 144.21 L613.06 143.20 L615.56 142.21 L618.06 141.21 L620.56 140.23 L623.06 139.24 L625.56 138.27 L628.06 137.30 L630.56 136.33 L633.06 135.38 L635.56 134.42 L638.06 133.47 L640.56 132.53 L643.06 131.60 L645.56 130.66 L648.06 129.74 L650.56 128.82 L653.06 127.90 L655.56 126.99 L658.06 126.08 L660.56 125.18 L663.06 124.28 L665.56 123.39 L668.06 122.51 L670.56 121.62 L673.06 120.75 L675.56 119.87 L678.06 119.00 L680.56 118.14 L683.06 117.28 L685.56 116.43 L688.06 115.58 L690.56 114.73 L693.06 113.89 L695.56 113.05 L698.06 112.22 L700.56 111.39 L703.06 110.56 L705.56 109.74 L708.06 108.92 L710.56 108.11 L713.06 107.30 L715.56 106.50 L718.06 105.70 L720.56 104.90 L723.06 104.10 L725.56 103.31 L728.06 102.53 L730.56 101.75 L733.06 100.97 L735.56 100.19 L738.06 99.42 L740.56 98.65 L743.06 97.89 L745.56 97.13 L748.06 96.37 L750.56 95.62 L753.06 94.87 L755.56 94.12 L758.06 93.38 L760.56 92.64 L763.06 91.90 L765.56 91.16 L768.06 90.43 L770.56 89.71 L773.06 88.98 L775.56 88.26 L778.06 87.54 L780.56 86.83 L783.06 86.12 L785.56 85.41 L788.06 84.70 L790.56 84.00 L793.06 83.30 L795.56 82.60 L798.06 81.91 L800.56 81.22 L803.06 80.53 L805.56 79.84 L808.06 79.16 L810.56 78.48 L813.06 77.80 L815.56 77.13 L818.06 76.46 L819.10 76.18" stroke="#ef0000" stroke-width="1.5" stroke-linecap="round"/>
<path d="M292.12 402.30 L293.62 399.64 L295.12 397.02 L296.62 394.45 L298.12 391.91 L299.62 389.41 L301.12 386.95 L302.62 384.53 L304.12 382.14 L305.62 379.78 L307.12 377.46 L308.62 375.16 L310.12 372.90 L311.62 370.67 L313.12 368.47 L314.62 366.30 L316.12 364.16 L317.62 362.04 L319.12 359.95 L320.62 357.89 L322.12 355.85 L323.62 353.84 L325.12 351.85 L326.62 349.88 L328.12 347.94 L329.62 346.02 L331.12 344.12 L332.62 342.25 L334.12 340.39 L335.62 338.56 L337.12 336.74 L338.62 334.95 L340.12 333.17 L341.62 331.41 L343.12 329.67 L344.62 327.95 L346.12 326.25 L347.62 324.56 L349.12 322.89 L350.62 321.24 L352.12 319.61 L353.62 317.99 L355.12 316.38 L356.62 314.79 L358.12 313.22 L359.62 311.66 L361.12 310.12 L362.62 308.59 L364.12 307.07 L365.62 305.57 L367.12 304.08 L368.62 302.60 L370.12 301.14 L371.62 299.69 L373.12 298.25 L374.62 296.83 L376.12 295.41 L377.62 294.01 L379.12 292.62 L380.62 291.24 L382.12 289.88 L383.62 288.52 L385.12 287.18 L386.62 285.85 L388.12 284.52 L389.62 283.21 L391.12 281.91 L392.62 280.62 L394.12 279.33 L395.62 278.06 L397.12 276.80 L398.62 275.55 L400.12 274.30 L401.62 273.07 L403.12 271.84 L404.62 270.63 L406.12 269.42 L407.62 268.22 L409.12 267.03 L410.62 265.85 L412.12 264.68 L413.62 263.51 L415.12 262.36 L416.62 261.21 L418.12 260.07 L419.62 258.93 L421.12 257.81 L422.62 256.69 L424.12 255.58 L425.62 254.48 L427.12 253.38 L428.62 252.29 L430.12 251.21 L431.62 250.14 L433.12 249.07 L435.62 247.31 L438.12 245.56 L440.62 243.83 L443.12 242.12 L445.62 240.43 L448.12 238.76 L450.62 237.10 L453.12 235.46 L455.62 233.83 L458.12 232.22 L460.62 230.63 L463.12 229.05 L465.62 227.48 L468.12 225.94 L470.62 224.40 L473.12 222.88 L475.62 221.37 L478.12 219.88 L480.62 218.40 L483.12 216.93 L485.62 215.47 L488.12 214.03 L490.62 212.60 L493.12 211.19 L495.62 209.78 L498.12 208.39 L500.62 207.01 L503.12 205.64 L505.62 204.28 L508.12 202.93 L510.62 201.59 L513.12 200.26 L515.62 198.95 L518.12 197.64 L520.62 196.35 L523.12 195.06 L525.62 193.79 L528.12 192.52 L530.62 191.26 L533.12 190.02 L535.62 188.78 L538.12 187.55 L540.62 186.33 L543.12 185.12 L545.62 183.92 L548.12 182.73 L550.62 181.54 L553.12 180.37 L555.62 179.20 L558.12 178.04 L560.62 176.89 L563.12 175.74 L565.62 174.61 L568.12 173.48 L570.62 172.36 L573.12 171.25 L575.62 170.14 L578.12 169.04 L580.62 167.95 L583.12 166.87 L585.62 165.79 L588.12 164.72 L590.62 163.66 L593.12 162.60 L595.62 161.55 L598.12 160.51 L600.62 159.47 L603.12 158.44 L605.62 157.42 L608.12 156.40 L610.62 155.39 L613.12 154.39 L615.62 153.39 L618.12 152.39 L620.62 151.41 L623.12 150.43 L625.62 149.45 L628.12 148.48 L630.62 147.52 L633.12 146.56 L635.62 145.61 L638.12 144.66 L640.62 143.72 L643.12 142.78 L645.62 141.85 L648.12 140.92 L650.62 140.00 L653.12 139.08 L655.62 138.17 L658.12 137.27 L660.62 136.36 L663.12 135.47 L665.62 134.58 L668.12 133.69 L670.62 132.81 L673.12 131.93 L675.62 131.06 L678.12 130.19 L680.62 129.33 L683.12 128.47 L685.62 127.61 L688.12 126.76 L690.62 125.92 L693.12 125.07 L695.62 124.24 L698.12 123.40 L700.62 122.57 L703.12 121.75 L705.62 120.93 L708.12 120.11 L710.62 119.30 L713.12 118.49 L715.62 117.68 L718.12 116.88 L720.62 116.09 L723.12 115.29 L725.62 114.50 L728.12 113.72 L730.62 112.93 L733.12 112.16 L735.62 111.38 L738.12 110.61 L740.62 109.84 L743.12 109.08 L745.62 108.32 L748.12 107.56 L750.62 106.81 L753.12 106.06 L755.62 105.31 L758.12 104.56 L760.62 103.82 L763.12 103.09 L765.62 102.35 L768.12 101.62 L770.62 100.90 L773.12 100.17 L775.62 99.45 L778.12 98.73 L780.62 98.02 L783.12 97.31 L785.62 96.60 L788.12 95.89 L790.62 95.19 L793.12 94.49 L795.62 93.79 L798.12 93.10 L800.62 92.41 L803.12 91.72 L805.62 91.03 L808.12 90.35 L810.62 89.67 L813.12 88.99 L815.62 88.32 L819.10 87.39" stroke="#e00000" stroke-width="1.5" stroke-linecap="round"/>
<path d="M296.68 402.30 L298.18 399.76 L299.68 397.27 L301.18 394.81 L302.68 392.38 L304.18 389.99 L305.68 387.64 L307.18 385.32 L308.68 383.03 L310.18 380.77 L311.68 378.54 L313.18 376.34 L314.68 374.17 L316.18 372.03 L317.68 369.91 L319.18 367.82 L320.68 365.76 L322.18 363.72 L323.68 361.71 L325.18 359.72 L326.68 357.76 L328.18 355.82 L329.68 353.90 L331.18 352.00 L332.68 350.13 L334.18 348.27 L335.68 346.44 L337.18 344.62 L338.68 342.83 L340.18 341.05 L341.68 339.30 L343.18 337.56 L344.68 335.84 L346.18 334.14 L347.68 332.45 L349.18 330.78 L350.68 329.13 L352.18 327.49 L353.68 325.88 L355.18 324.27 L356.68 322.68 L358.18 321.11 L359.68 319.55 L361.18 318.01 L362.68 316.48 L364.18 314.96 L365.68 313.46 L367.18 311.97 L368.68 310.50 L370.18 309.03 L371.68 307.58 L373.18 306.15 L374.68 304.72 L376.18 303.31 L377.68 301.91 L379.18 300.52 L380.68 299.14 L382.18 297.78 L383.68 296.42 L385.18 295.08 L386.68 293.75 L388.18 292.42 L389.68 291.11 L391.18 289.81 L392.68 288.52 L394.18 287.24 L395.68 285.96 L397.18 284.70 L398.68 283.45 L400.18 282.21 L401.68 280.97 L403.18 279.75 L404.68 278.53 L406.18 277.33 L407.68 276.13 L409.18 274.94 L410.68 273.76 L412.18 272.58 L413.68 271.42 L415.18 270.26 L416.68 269.11 L418.18 267.97 L419.68 266.84 L421.18 265.72 L422.68 264.60 L424.18 263.49 L425.68 262.39 L427.18 261.29 L428.68 260.20 L430.18 259.12 L431.68 258.05 L433.18 256.98 L434.68 255.92 L436.18 254.87 L437.68 253.82 L439.18 252.78 L440.68 251.75 L442.18 250.72 L443.68 249.70 L446.18 248.01 L448.68 246.34 L451.18 244.68 L453.68 243.05 L456.18 241.42 L458.68 239.82 L461.18 238.23 L463.68 236.65 L466.18 235.09 L468.68 233.54 L471.18 232.01 L473.68 230.49 L476.18 228.99 L478.68 227.50 L481.18 226.02 L483.68 224.56 L486.18 223.10 L488.68 221.66 L491.18 220.24 L493.68 218.82 L496.18 217.42 L498.68 216.03 L501.18 214.65 L503.68 213.28 L506.18 211.93 L508.68 210.58 L511.18 209.25 L513.68 207.92 L516.18 206.61 L518.68 205.30 L521.18 204.01 L523.68 202.73 L526.18 201.45 L528.68 200.19 L531.18 198.94 L533.68 197.69 L536.18 196.46 L538.68 195.23 L541.18 194.01 L543.68 192.80 L546.18 191.61 L548.68 190.41 L551.18 189.23 L553.68 188.06 L556.18 186.89 L558.68 185.73 L561.18 184.58 L563.68 183.44 L566.18 182.31 L568.68 181.18 L571.18 180.06 L573.68 178.95 L576.18 177.85 L578.68 176.75 L581.18 175.66 L583.68 174.58 L586.18 173.50 L588.68 172.44 L591.18 171.37 L593.68 170.32 L596.18 169.27 L598.68 168.23 L601.18 167.20 L603.68 166.17 L606.18 165.14 L608.68 164.13 L611.18 163.12 L613.68 162.12 L616.18 161.12 L618.68 160.13 L621.18 159.14 L623.68 158.16 L626.18 157.19 L628.68 156.22 L631.18 155.25 L633.68 154.30 L636.18 153.35 L638.68 152.40 L641.18 151.46 L643.68 150.52 L646.18 149.59 L648.68 148.67 L651.18 147.75 L653.68 146.83 L656.18 145.92 L658.68 145.02 L661.18 144.12 L663.68 143.22 L666.18 142.33 L668.68 141.44 L671.18 140.56 L673.68 139.69 L676.18 138.82 L678.68 137.95 L681.18 137.09 L683.68 136.23 L686.18 135.37 L688.68 134.52 L691.18 133.68 L693.68 132.84 L696.18 132.00 L698.68 131.17 L701.18 130.34 L703.68 129.52 L706.18 128.70 L708.68 127.88 L711.18 127.07 L713.68 126.26 L716.18 125.46 L718.68 124.66 L721.18 123.86 L723.68 123.07 L726.18 122.28 L728.68 121.49 L731.18 120.71 L733.68 119.93 L736.18 119.16 L738.68 118.39 L741.18 117.62 L743.68 116.86 L746.18 116.10 L748.68 115.34 L751.18 114.59 L753.68 113.84 L756.18 113.09 L758.68 112.35 L761.18 111.61 L763.68 110.88 L766.18 110.14 L768.68 109.41 L771.18 108.69 L773.68 107.96 L776.18 107.24 L778.68 106.52 L781.18 105.81 L783.68 105.10 L786.18 104.39 L788.68 103.69 L791.18 102.98 L793.68 102.29 L796.18 101.59 L798.68 100.90 L801.18 100.21 L803.68 99.52 L806.18 98.83 L808.68 98.15 L811.18 97.47 L813.68 96.80 L816.18 96.12 L819.10 95.34" stroke="#d00000" stroke-width="1.5" stroke-linecap="round"/>
<path d="M300.37 402.30 L301.87 399.86 L303.37 397.45 L304.87 395.08 L306.37 392.74 L307.87 390.43 L309.37 388.15 L310.87 385.91 L312.37 383.69 L313.87 381.51 L315.37 379.35 L316.87 377.22 L318.37 375.12 L319.87 373.04 L321.37 370.99 L322.87 368.96 L324.37 366.96 L325.87 364.99 L327.37 363.03 L328.87 361.10 L330.37 359.19 L331.87 357.30 L333.37 355.44 L334.87 353.59 L336.37 351.77 L337.87 349.96 L339.37 348.18 L340.87 346.41 L342.37 344.66 L343.87 342.93 L345.37 341.22 L346.87 339.53 L348.37 337.85 L349.87 336.19 L351.37 334.54 L352.87 332.92 L354.37 331.30 L355.87 329.71 L357.37 328.13 L358.87 326.56 L360.37 325.01 L361.87 323.47 L363.37 321.95 L364.87 320.44 L366.37 318.94 L367.87 317.46 L369.37 315.99 L370.87 314.53 L372.37 313.09 L373.87 311.66 L375.37 310.24 L376.87 308.83 L378.37 307.44 L379.87 306.05 L381.37 304.68 L382.87 303.32 L384.37 301.97 L385.87 300.63 L387.37 299.30 L388.87 297.99 L390.37 296.68 L391.87 295.38 L393.37 294.10 L394.87 292.82 L396.37 291.55 L397.87 290.29 L399.37 289.05 L400.87 287.81 L402.37 286.58 L403.87 285.36 L405.37 284.15 L406.87 282.94 L408.37 281.75 L409.87 280.56 L411.37 279.38 L412.87 278.22 L414.37 277.06 L415.87 275.90 L417.37 274.76 L418.87 273.62 L420.37 272.49 L421.87 271.37 L423.37 270.26 L424.87 269.15 L426.37 268.05 L427.87 266.96 L429.37 265.87 L430.87 264.80 L432.37 263.72 L433.87 262.66 L435.37 261.60 L436.87 260.55 L438.37 259.51 L439.87 258.47 L441.37 257.44 L442.87 256.42 L444.37 255.40 L445.87 254.39 L447.37 253.38 L448.87 252.38 L450.37 251.39 L451.87 250.40 L453.37 249.42 L455.87 247.79 L458.37 246.18 L460.87 244.59 L463.37 243.01 L465.87 241.45 L468.37 239.90 L470.87 238.37 L473.37 236.85 L475.87 235.34 L478.37 233.85 L480.87 232.37 L483.37 230.90 L485.87 229.45 L488.37 228.01 L490.87 226.58 L493.37 225.17 L495.87 223.76 L498.37 222.37 L500.87 220.99 L503.37 219.62 L505.87 218.26 L508.37 216.92 L510.87 215.58 L513.37 214.25 L515.87 212.94 L518.37 211.63 L520.87 210.34 L523.37 209.06 L525.87 207.78 L528.37 206.52 L530.87 205.26 L533.37 204.01 L535.87 202.78 L538.37 201.55 L540.87 200.33 L543.37 199.12 L545.87 197.92 L548.37 196.73 L550.87 195.55 L553.37 194.37 L555.87 193.20 L558.37 192.05 L560.87 190.89 L563.37 189.75 L565.87 188.62 L568.37 187.49 L570.87 186.37 L573.37 185.26 L575.87 184.15 L578.37 183.06 L580.87 181.97 L583.37 180.88 L585.87 179.81 L588.37 178.74 L590.87 177.67 L593.37 176.62 L595.87 175.57 L598.37 174.53 L600.87 173.49 L603.37 172.46 L605.87 171.44 L608.37 170.42 L610.87 169.41 L613.37 168.41 L615.87 167.41 L618.37 166.42 L620.87 165.43 L623.37 164.45 L625.87 163.48 L628.37 162.51 L630.87 161.54 L633.37 160.58 L635.87 159.63 L638.37 158.68 L640.87 157.74 L643.37 156.81 L645.87 155.88 L648.37 154.95 L650.87 154.03 L653.37 153.11 L655.87 152.20 L658.37 151.30 L660.87 150.40 L663.37 149.50 L665.87 148.61 L668.37 147.72 L670.87 146.84 L673.37 145.96 L675.87 145.09 L678.37 144.22 L680.87 143.36 L683.37 142.50 L685.87 141.65 L688.37 140.80 L690.87 139.95 L693.37 139.11 L695.87 138.27 L698.37 137.44 L700.87 136.61 L703.37 135.79 L705.87 134.97 L708.37 134.15 L710.87 133.34 L713.37 132.53 L715.87 131.72 L718.37 130.92 L720.87 130.13 L723.37 129.33 L725.87 128.54 L728.37 127.76 L730.87 126.98 L733.37 126.20 L735.87 125.42 L738.37 124.65 L740.87 123.89 L743.37 123.12 L745.87 122.36 L748.37 121.60 L750.87 120.85 L753.37 120.10 L755.87 119.35 L758.37 118.61 L760.87 117.87 L763.37 117.13 L765.87 116.40 L768.37 115.67 L770.87 114.94 L773.37 114.22 L775.87 113.50 L778.37 112.78 L780.87 112.07 L783.37 111.36 L785.87 110.65 L788.37 109.94 L790.87 109.24 L793.37 108.54 L795.87 107.84 L798.37 107.15 L800.87 106.46 L803.37 105.77 L805.87 105.09 L808.37 104.40 L810.87 103.72 L813.37 103.05 L815.87 102.37 L819.10 101.51" stroke="#c10000" stroke-width="1.5" stroke-linecap="round"/>
<path d="M303.49 402.30 L304.99 399.93 L306.49 397.59 L307.99 395.29 L309.49 393.01 L310.99 390.77 L312.49 388.56 L313.99 386.38 L315.49 384.22 L316.99 382.09 L318.49 379.99 L319.99 377.92 L321.49 375.87 L322.99 373.85 L324.49 371.85 L325.99 369.87 L327.49 367.92 L328.99 365.99 L330.49 364.08 L331.99 362.20 L333.49 360.33 L334.99 358.49 L336.49 356.66 L337.99 354.86 L339.49 353.08 L340.99 351.31 L342.49 349.57 L343.99 347.84 L345.49 346.13 L346.99 344.43 L348.49 342.76 L349.99 341.10 L351.49 339.45 L352.99 337.83 L354.49 336.22 L355.99 334.62 L357.49 333.04 L358.99 331.48 L360.49 329.93 L361.99 328.39 L363.49 326.87 L364.99 325.36 L366.49 323.86 L367.99 322.38 L369.49 320.91 L370.99 319.46 L372.49 318.02 L373.99 316.59 L375.49 315.17 L376.99 313.76 L378.49 312.37 L379.99 310.99 L381.49 309.61 L382.99 308.25 L384.49 306.91 L385.99 305.57 L387.49 304.24 L388.99 302.92 L390.49 301.62 L391.99 300.32 L393.49 299.03 L394.99 297.76 L396.49 296.49 L397.99 295.24 L399.49 293.99 L400.99 292.75 L402.49 291.52 L403.99 290.30 L405.49 289.09 L406.99 287.89 L408.49 286.69 L409.99 285.51 L411.49 284.33 L412.99 283.16 L414.49 282.00 L415.99 280.85 L417.49 279.71 L418.99 278.57 L420.49 277.44 L421.99 276.32 L423.49 275.21 L424.99 274.10 L426.49 273.00 L427.99 271.91 L429.49 270.83 L430.99 269.75 L432.49 268.68 L433.99 267.62 L435.49 266.56 L436.99 265.51 L438.49 264.47 L439.99 263.43 L441.49 262.40 L442.99 261.38 L444.49 260.36 L445.99 259.35 L447.49 258.34 L448.99 257.34 L450.49 256.35 L451.99 255.36 L453.49 254.38 L454.99 253.40 L456.49 252.43 L457.99 251.47 L459.49 250.51 L460.99 249.56 L463.49 247.98 L465.99 246.42 L468.49 244.87 L470.99 243.34 L473.49 241.82 L475.99 240.31 L478.49 238.82 L480.99 237.34 L483.49 235.88 L485.99 234.42 L488.49 232.98 L490.99 231.56 L493.49 230.14 L495.99 228.74 L498.49 227.34 L500.99 225.96 L503.49 224.60 L505.99 223.24 L508.49 221.89 L510.99 220.56 L513.49 219.23 L515.99 217.92 L518.49 216.61 L520.99 215.32 L523.49 214.03 L525.99 212.76 L528.49 211.50 L530.99 210.24 L533.49 209.00 L535.99 207.76 L538.49 206.53 L540.99 205.31 L543.49 204.11 L545.99 202.91 L548.49 201.71 L550.99 200.53 L553.49 199.36 L555.99 198.19 L558.49 197.03 L560.99 195.88 L563.49 194.74 L565.99 193.60 L568.49 192.48 L570.99 191.36 L573.49 190.24 L575.99 189.14 L578.49 188.04 L580.99 186.95 L583.49 185.87 L585.99 184.79 L588.49 183.73 L590.99 182.66 L593.49 181.61 L595.99 180.56 L598.49 179.52 L600.99 178.48 L603.49 177.45 L605.99 176.43 L608.49 175.41 L610.99 174.40 L613.49 173.40 L615.99 172.40 L618.49 171.41 L620.99 170.42 L623.49 169.44 L625.99 168.47 L628.49 167.50 L630.99 166.54 L633.49 165.58 L635.99 164.63 L638.49 163.68 L640.99 162.74 L643.49 161.80 L645.99 160.87 L648.49 159.95 L650.99 159.03 L653.49 158.11 L655.99 157.20 L658.49 156.29 L660.99 155.39 L663.49 154.50 L665.99 153.61 L668.49 152.72 L670.99 151.84 L673.49 150.96 L675.99 150.09 L678.49 149.22 L680.99 148.36 L683.49 147.50 L685.99 146.65 L688.49 145.80 L690.99 144.95 L693.49 144.11 L695.99 143.27 L698.49 142.44 L700.99 141.61 L703.49 140.79 L705.99 139.97 L708.49 139.15 L710.99 138.34 L713.49 137.53 L715.99 136.73 L718.49 135.93 L720.99 135.13 L723.49 134.34 L725.99 133.55 L728.49 132.76 L730.99 131.98 L733.49 131.20 L735.99 130.43 L738.49 129.66 L740.99 128.89 L743.49 128.13 L745.99 127.37 L748.49 126.61 L750.99 125.86 L753.49 125.11 L755.99 124.36 L758.49 123.62 L760.99 122.88 L763.49 122.14 L765.99 121.41 L768.49 120.68 L770.99 119.95 L773.49 119.23 L775.99 118.51 L778.49 117.79 L780.99 117.07 L783.49 116.36 L785.99 115.65 L788.49 114.95 L790.99 114.25 L793.49 113.55 L795.99 112.85 L798.49 112.16 L800.99 111.47 L803.49 110.78 L805.99 110.09 L808.49 109.41 L810.99 108.73 L813.49 108.06 L815.99 107.38 L819.10 106.55" stroke="#b10000" stroke-width="1.5" stroke-linecap="round"/>
<path d="M306.20 402.30 L307.70 399.99 L309.20 397.71 L310.70 395.46 L312.20 393.24 L313.70 391.05 L315.20 388.89 L316.70 386.76 L318.20 384.66 L319.70 382.58 L321.20 380.52 L322.70 378.49 L324.20 376.49 L325.70 374.51 L327.20 372.55 L328.70 370.62 L330.20 368.71 L331.70 366.82 L333.20 364.95 L334.70 363.10 L336.20 361.27 L337.70 359.47 L339.20 357.68 L340.70 355.91 L342.20 354.16 L343.70 352.43 L345.20 350.71 L346.70 349.02 L348.20 347.34 L349.70 345.68 L351.20 344.03 L352.70 342.40 L354.20 340.79 L355.70 339.19 L357.20 337.61 L358.70 336.04 L360.20 334.48 L361.70 332.95 L363.20 331.42 L364.70 329.91 L366.20 328.41 L367.70 326.93 L369.20 325.46 L370.70 324.00 L372.20 322.55 L373.70 321.12 L375.20 319.70 L376.70 318.29 L378.20 316.90 L379.70 315.51 L381.20 314.14 L382.70 312.78 L384.20 311.42 L385.70 310.08 L387.20 308.76 L388.70 307.44 L390.20 306.13 L391.70 304.83 L393.20 303.54 L394.70 302.26 L396.20 301.00 L397.70 299.74 L399.20 298.49 L400.70 297.25 L402.20 296.02 L403.70 294.80 L405.20 293.58 L406.70 292.38 L408.20 291.18 L409.70 290.00 L411.20 288.82 L412.70 287.65 L414.20 286.49 L415.70 285.33 L417.20 284.19 L418.70 283.05 L420.20 281.92 L421.70 280.80 L423.20 279.68 L424.70 278.58 L426.20 277.48 L427.70 276.38 L429.20 275.30 L430.70 274.22 L432.20 273.15 L433.70 272.08 L435.20 271.02 L436.70 269.97 L438.20 268.93 L439.70 267.89 L441.20 266.86 L442.70 265.83 L444.20 264.81 L445.70 263.80 L447.20 262.79 L448.70 261.79 L450.20 260.80 L451.70 259.81 L453.20 258.83 L454.70 257.85 L456.20 256.88 L457.70 255.91 L459.20 254.95 L460.70 254.00 L462.20 253.05 L463.70 252.11 L465.20 251.17 L466.70 250.24 L468.20 249.31 L470.70 247.77 L473.20 246.25 L475.70 244.75 L478.20 243.25 L480.70 241.77 L483.20 240.31 L485.70 238.85 L488.20 237.41 L490.70 235.98 L493.20 234.56 L495.70 233.16 L498.20 231.77 L500.70 230.38 L503.20 229.01 L505.70 227.66 L508.20 226.31 L510.70 224.97 L513.20 223.64 L515.70 222.33 L518.20 221.02 L520.70 219.73 L523.20 218.44 L525.70 217.17 L528.20 215.90 L530.70 214.65 L533.20 213.40 L535.70 212.16 L538.20 210.93 L540.70 209.72 L543.20 208.51 L545.70 207.30 L548.20 206.11 L550.70 204.93 L553.20 203.75 L555.70 202.58 L558.20 201.42 L560.70 200.27 L563.20 199.13 L565.70 197.99 L568.20 196.87 L570.70 195.75 L573.20 194.63 L575.70 193.53 L578.20 192.43 L580.70 191.34 L583.20 190.26 L585.70 189.18 L588.20 188.11 L590.70 187.05 L593.20 185.99 L595.70 184.94 L598.20 183.90 L600.70 182.86 L603.20 181.83 L605.70 180.81 L608.20 179.79 L610.70 178.78 L613.20 177.78 L615.70 176.78 L618.20 175.79 L620.70 174.80 L623.20 173.82 L625.70 172.84 L628.20 171.87 L630.70 170.91 L633.20 169.95 L635.70 169.00 L638.20 168.05 L640.70 167.11 L643.20 166.17 L645.70 165.24 L648.20 164.31 L650.70 163.39 L653.20 162.48 L655.70 161.57 L658.20 160.66 L660.70 159.76 L663.20 158.86 L665.70 157.97 L668.20 157.08 L670.70 156.20 L673.20 155.32 L675.70 154.45 L678.20 153.58 L680.70 152.72 L683.20 151.86 L685.70 151.01 L688.20 150.16 L690.70 149.31 L693.20 148.47 L695.70 147.63 L698.20 146.80 L700.70 145.97 L703.20 145.14 L705.70 144.32 L708.20 143.51 L710.70 142.69 L713.20 141.89 L715.70 141.08 L718.20 140.28 L720.70 139.48 L723.20 138.69 L725.70 137.90 L728.20 137.11 L730.70 136.33 L733.20 135.55 L735.70 134.78 L738.20 134.01 L740.70 133.24 L743.20 132.47 L745.70 131.71 L748.20 130.96 L750.70 130.20 L753.20 129.45 L755.70 128.71 L758.20 127.96 L760.70 127.22 L763.20 126.49 L765.70 125.75 L768.20 125.02 L770.70 124.29 L773.20 123.57 L775.70 122.85 L778.20 122.13 L780.70 121.42 L783.20 120.71 L785.70 120.00 L788.20 119.29 L790.70 118.59 L793.20 117.89 L795.70 117.19 L798.20 116.50 L800.70 115.81 L803.20 115.12 L805.70 114.43 L808.20 113.75 L810.70 113.07 L813.20 112.40 L815.70 111.72 L819.10 110.81" stroke="#a10000" stroke-width="1.5" stroke-linecap="round"/>
<path d="M308.61 402.30 L310.11 400.04 L311.61 397.81 L313.11 395.61 L314.61 393.44 L316.11 391.29 L317.61 389.18 L319.11 387.09 L320.61 385.02 L322.11 382.99 L323.61 380.97 L325.11 378.98 L326.61 377.02 L328.11 375.07 L329.61 373.15 L331.11 371.26 L332.61 369.38 L334.11 367.52 L335.61 365.69 L337.11 363.87 L338.61 362.08 L340.11 360.30 L341.61 358.54 L343.11 356.80 L344.61 355.08 L346.11 353.38 L347.61 351.69 L349.11 350.02 L350.61 348.37 L352.11 346.74 L353.61 345.12 L355.11 343.51 L356.61 341.92 L358.11 340.35 L359.61 338.79 L361.11 337.24 L362.61 335.71 L364.11 334.20 L365.61 332.69 L367.11 331.21 L368.61 329.73 L370.11 328.27 L371.61 326.82 L373.11 325.38 L374.61 323.95 L376.11 322.54 L377.61 321.14 L379.11 319.75 L380.61 318.37 L382.11 317.01 L383.61 315.65 L385.11 314.31 L386.61 312.97 L388.11 311.65 L389.61 310.34 L391.11 309.03 L392.61 307.74 L394.11 306.46 L395.61 305.19 L397.11 303.93 L398.61 302.67 L400.11 301.43 L401.61 300.19 L403.11 298.97 L404.61 297.75 L406.11 296.55 L407.61 295.35 L409.11 294.16 L410.61 292.98 L412.11 291.80 L413.61 290.64 L415.11 289.48 L416.61 288.33 L418.11 287.19 L419.61 286.06 L421.11 284.93 L422.61 283.81 L424.11 282.70 L425.61 281.60 L427.11 280.51 L428.61 279.42 L430.11 278.34 L431.61 277.26 L433.11 276.19 L434.61 275.13 L436.11 274.08 L437.61 273.03 L439.11 271.99 L440.61 270.96 L442.11 269.93 L443.61 268.91 L445.11 267.89 L446.61 266.88 L448.11 265.88 L449.61 264.88 L451.11 263.89 L452.61 262.91 L454.11 261.93 L455.61 260.96 L457.11 259.99 L458.61 259.03 L460.11 258.07 L461.61 257.12 L463.11 256.17 L464.61 255.23 L466.11 254.30 L467.61 253.37 L469.11 252.44 L470.61 251.52 L472.11 250.61 L473.61 249.70 L476.11 248.19 L478.61 246.70 L481.11 245.22 L483.61 243.76 L486.11 242.31 L488.61 240.87 L491.11 239.44 L493.61 238.03 L496.11 236.62 L498.61 235.23 L501.11 233.85 L503.61 232.48 L506.11 231.13 L508.61 229.78 L511.11 228.45 L513.61 227.12 L516.11 225.81 L518.61 224.50 L521.11 223.21 L523.61 221.93 L526.11 220.65 L528.61 219.39 L531.11 218.13 L533.61 216.89 L536.11 215.65 L538.61 214.43 L541.11 213.21 L543.61 212.00 L546.11 210.80 L548.61 209.61 L551.11 208.43 L553.61 207.25 L556.11 206.09 L558.61 204.93 L561.11 203.78 L563.61 202.64 L566.11 201.50 L568.61 200.38 L571.11 199.26 L573.61 198.15 L576.11 197.04 L578.61 195.94 L581.11 194.85 L583.61 193.77 L586.11 192.70 L588.61 191.63 L591.11 190.57 L593.61 189.51 L596.11 188.46 L598.61 187.42 L601.11 186.39 L603.61 185.36 L606.11 184.34 L608.61 183.32 L611.11 182.31 L613.61 181.31 L616.11 180.31 L618.61 179.32 L621.11 178.33 L623.61 177.35 L626.11 176.38 L628.61 175.41 L631.11 174.44 L633.61 173.49 L636.11 172.53 L638.61 171.59 L641.11 170.65 L643.61 169.71 L646.11 168.78 L648.61 167.85 L651.11 166.93 L653.61 166.02 L656.11 165.11 L658.61 164.20 L661.11 163.30 L663.61 162.41 L666.11 161.52 L668.61 160.63 L671.11 159.75 L673.61 158.87 L676.11 158.00 L678.61 157.13 L681.11 156.27 L683.61 155.41 L686.11 154.56 L688.61 153.71 L691.11 152.86 L693.61 152.02 L696.11 151.19 L698.61 150.35 L701.11 149.53 L703.61 148.70 L706.11 147.88 L708.61 147.07 L711.11 146.25 L713.61 145.45 L716.11 144.64 L718.61 143.84 L721.11 143.04 L723.61 142.25 L726.11 141.46 L728.61 140.68 L731.11 139.90 L733.61 139.12 L736.11 138.34 L738.61 137.57 L741.11 136.81 L743.61 136.04 L746.11 135.28 L748.61 134.53 L751.11 133.77 L753.61 133.02 L756.11 132.28 L758.61 131.53 L761.11 130.79 L763.61 130.06 L766.11 129.32 L768.61 128.59 L771.11 127.87 L773.61 127.14 L776.11 126.42 L778.61 125.71 L781.11 124.99 L783.61 124.28 L786.11 123.57 L788.61 122.87 L791.11 122.17 L793.61 121.47 L796.11 120.77 L798.61 120.08 L801.11 119.39 L803.61 118.70 L806.11 118.01 L808.61 117.33 L811.11 116.65 L813.61 115.98 L816.11 115.30 L819.10 114.50" stroke="#920000" stroke-width="1.5" stroke-linecap="round"/>
<path d="M310.78 402.30 L312.28 400.08 L313.78 397.90 L315.28 395.74 L316.78 393.60 L318.28 391.50 L319.78 389.42 L321.28 387.37 L322.78 385.34 L324.28 383.34 L325.78 381.36 L327.28 379.41 L328.78 377.47 L330.28 375.56 L331.78 373.67 L333.28 371.81 L334.78 369.96 L336.28 368.13 L337.78 366.33 L339.28 364.54 L340.78 362.77 L342.28 361.02 L343.78 359.29 L345.28 357.58 L346.78 355.88 L348.28 354.21 L349.78 352.54 L351.28 350.90 L352.78 349.27 L354.28 347.66 L355.78 346.06 L357.28 344.48 L358.78 342.91 L360.28 341.36 L361.78 339.82 L363.28 338.29 L364.78 336.78 L366.28 335.29 L367.78 333.80 L369.28 332.33 L370.78 330.88 L372.28 329.43 L373.78 328.00 L375.28 326.58 L376.78 325.17 L378.28 323.78 L379.78 322.39 L381.28 321.02 L382.78 319.66 L384.28 318.31 L385.78 316.97 L387.28 315.64 L388.78 314.32 L390.28 313.01 L391.78 311.71 L393.28 310.43 L394.78 309.15 L396.28 307.88 L397.78 306.62 L399.28 305.37 L400.78 304.14 L402.28 302.90 L403.78 301.68 L405.28 300.47 L406.78 299.27 L408.28 298.07 L409.78 296.89 L411.28 295.71 L412.78 294.54 L414.28 293.38 L415.78 292.23 L417.28 291.08 L418.78 289.94 L420.28 288.81 L421.78 287.69 L423.28 286.58 L424.78 285.47 L426.28 284.37 L427.78 283.28 L429.28 282.19 L430.78 281.11 L432.28 280.04 L433.78 278.98 L435.28 277.92 L436.78 276.87 L438.28 275.82 L439.78 274.79 L441.28 273.76 L442.78 272.73 L444.28 271.71 L445.78 270.70 L447.28 269.69 L448.78 268.69 L450.28 267.70 L451.78 266.71 L453.28 265.73 L454.78 264.75 L456.28 263.78 L457.78 262.81 L459.28 261.85 L460.78 260.90 L462.28 259.95 L463.78 259.01 L465.28 258.07 L466.78 257.14 L468.28 256.21 L469.78 255.29 L471.28 254.37 L472.78 253.46 L474.28 252.55 L475.78 251.65 L477.28 250.75 L478.78 249.86 L481.28 248.38 L483.78 246.92 L486.28 245.47 L488.78 244.03 L491.28 242.60 L493.78 241.19 L496.28 239.79 L498.78 238.40 L501.28 237.02 L503.78 235.65 L506.28 234.29 L508.78 232.95 L511.28 231.61 L513.78 230.29 L516.28 228.98 L518.78 227.67 L521.28 226.38 L523.78 225.10 L526.28 223.82 L528.78 222.56 L531.28 221.31 L533.78 220.06 L536.28 218.83 L538.78 217.60 L541.28 216.38 L543.78 215.18 L546.28 213.98 L548.78 212.79 L551.28 211.60 L553.78 210.43 L556.28 209.26 L558.78 208.11 L561.28 206.96 L563.78 205.82 L566.28 204.68 L568.78 203.56 L571.28 202.44 L573.78 201.33 L576.28 200.22 L578.78 199.13 L581.28 198.04 L583.78 196.96 L586.28 195.88 L588.78 194.81 L591.28 193.75 L593.78 192.70 L596.28 191.65 L598.78 190.61 L601.28 189.57 L603.78 188.55 L606.28 187.52 L608.78 186.51 L611.28 185.50 L613.78 184.49 L616.28 183.50 L618.78 182.51 L621.28 181.52 L623.78 180.54 L626.28 179.57 L628.78 178.60 L631.28 177.64 L633.78 176.68 L636.28 175.73 L638.78 174.78 L641.28 173.84 L643.78 172.90 L646.28 171.97 L648.78 171.05 L651.28 170.13 L653.78 169.21 L656.28 168.30 L658.78 167.40 L661.28 166.50 L663.78 165.60 L666.28 164.71 L668.78 163.83 L671.28 162.95 L673.78 162.07 L676.28 161.20 L678.78 160.33 L681.28 159.47 L683.78 158.61 L686.28 157.76 L688.78 156.91 L691.28 156.06 L693.78 155.22 L696.28 154.39 L698.78 153.55 L701.28 152.73 L703.78 151.90 L706.28 151.08 L708.78 150.27 L711.28 149.46 L713.78 148.65 L716.28 147.84 L718.78 147.04 L721.28 146.25 L723.78 145.45 L726.28 144.67 L728.78 143.88 L731.28 143.10 L733.78 142.32 L736.28 141.55 L738.78 140.78 L741.28 140.01 L743.78 139.25 L746.28 138.49 L748.78 137.73 L751.28 136.98 L753.78 136.23 L756.28 135.48 L758.78 134.74 L761.28 134.00 L763.78 133.26 L766.28 132.53 L768.78 131.80 L771.28 131.08 L773.78 130.35 L776.28 129.63 L778.78 128.91 L781.28 128.20 L783.78 127.49 L786.28 126.78 L788.78 126.08 L791.28 125.37 L793.78 124.68 L796.28 123.98 L798.78 123.29 L801.28 122.60 L803.78 121.91 L806.28 121.22 L808.78 120.54 L811.28 119.86 L813.78 119.19 L816.28 118.51 L819.10 117.76" stroke="#820000" stroke-width="1.5" stroke-linecap="round"/>
</g>
<rect x="200.40" y="16.40" width="618.20" height="381.90" fill="none" stroke="#444" stroke-width="0.6"/>
<path d="M200.40 398.30v-5.20M200.40 16.40v5.20M221.01 398.30v-2.70M221.01 16.40v2.70M241.61 398.30v-2.70M241.61 16.40v2.70M262.22 398.30v-2.70M262.22 16.40v2.70M282.83 398.30v-5.20M282.83 16.40v5.20M303.43 398.30v-2.70M303.43 16.40v2.70M324.04 398.30v-2.70M324.04 16.40v2.70M344.65 398.30v-2.70M344.65 16.40v2.70M365.25 398.30v-5.20M365.25 16.40v5.20M385.86 398.30v-2.70M385.86 16.40v2.70M406.47 398.30v-2.70M406.47 16.40v2.70M427.07 398.30v-2.70M427.07 16.40v2.70M447.68 398.30v-5.20M447.68 16.40v5.20M468.29 398.30v-2.70M468.29 16.40v2.70M488.89 398.30v-2.70M488.89 16.40v2.70M509.50 398.30v-2.70M509.50 16.40v2.70M530.11 398.30v-5.20M530.11 16.40v5.20M550.71 398.30v-2.70M550.71 16.40v2.70M571.32 398.30v-2.70M571.32 16.40v2.70M591.93 398.30v-2.70M591.93 16.40v2.70M612.53 398.30v-5.20M612.53 16.40v5.20M633.14 398.30v-2.70M633.14 16.40v2.70M653.75 398.30v-2.70M653.75 16.40v2.70M674.35 398.30v-2.70M674.35 16.40v2.70M694.96 398.30v-5.20M694.96 16.40v5.20M715.57 398.30v-2.70M715.57 16.40v2.70M736.17 398.30v-2.70M736.17 16.40v2.70M756.78 398.30v-2.70M756.78 16.40v2.70M777.39 398.30v-5.20M777.39 16.40v5.20M797.99 398.30v-2.70M797.99 16.40v2.70M818.60 398.30v-2.70M818.60 16.40v2.70M200.40 16.40h5.2M818.60 16.40h-5.2M200.40 60.89h2.7M818.60 60.89h-2.7M200.40 49.68h2.7M818.60 49.68h-2.7M200.40 41.73h2.7M818.60 41.73h-2.7M200.40 35.56h2.7M818.60 35.56h-2.7M200.40 30.52h2.7M818.60 30.52h-2.7M200.40 26.26h2.7M818.60 26.26h-2.7M200.40 22.57h2.7M818.60 22.57h-2.7M200.40 19.31h2.7M818.60 19.31h-2.7M200.40 80.05h5.2M818.60 80.05h-5.2M200.40 124.54h2.7M818.60 124.54h-2.7M200.40 113.33h2.7M818.60 113.33h-2.7M200.40 105.38h2.7M818.60 105.38h-2.7M200.40 99.21h2.7M818.60 99.21h-2.7M200.40 94.17h2.7M818.60 94.17h-2.7M200.40 89.91h2.7M818.60 89.91h-2.7M200.40 86.22h2.7M818.60 86.22h-2.7M200.40 82.96h2.7M818.60 82.96h-2.7M200.40 143.70h5.2M818.60 143.70h-5.2M200.40 188.19h2.7M818.60 188.19h-2.7M200.40 176.98h2.7M818.60 176.98h-2.7M200.40 169.03h2.7M818.60 169.03h-2.7M200.40 162.86h2.7M818.60 162.86h-2.7M200.40 157.82h2.7M818.60 157.82h-2.7M200.40 153.56h2.7M818.60 153.56h-2.7M200.40 149.87h2.7M818.60 149.87h-2.7M200.40 146.61h2.7M818.60 146.61h-2.7M200.40 207.35h5.2M818.60 207.35h-5.2M200.40 251.84h2.7M818.60 251.84h-2.7M200.40 240.63h2.7M818.60 240.63h-2.7M200.40 232.68h2.7M818.60 232.68h-2.7M200.40 226.51h2.7M818.60 226.51h-2.7M200.40 221.47h2.7M818.60 221.47h-2.7M200.40 217.21h2.7M818.60 217.21h-2.7M200.40 213.52h2.7M818.60 213.52h-2.7M200.40 210.26h2.7M818.60 210.26h-2.7M200.40 271.00h5.2M818.60 271.00h-5.2M200.40 315.49h2.7M818.60 315.49h-2.7M200.40 304.28h2.7M818.60 304.28h-2.7M200.40 296.33h2.7M818.60 296.33h-2.7M200.40 290.16h2.7M818.60 290.16h-2.7M200.40 285.12h2.7M818.60 285.12h-2.7M200.40 280.86h2.7M818.60 280.86h-2.7M200.40 277.17h2.7M818.60 277.17h-2.7M200.40 273.91h2.7M818.60 273.91h-2.7M200.40 334.65h5.2M818.60 334.65h-5.2M200.40 379.14h2.7M818.60 379.14h-2.7M200.40 367.93h2.7M818.60 367.93h-2.7M200.40 359.98h2.7M818.60 359.98h-2.7M200.40 353.81h2.7M818.60 353.81h-2.7M200.40 348.77h2.7M818.60 348.77h-2.7M200.40 344.51h2.7M818.60 344.51h-2.7M200.40 340.82h2.7M818.60 340.82h-2.7M200.40 337.56h2.7M818.60 337.56h-2.7M200.40 398.30h5.2M818.60 398.30h-5.2" stroke="#111" stroke-width="0.75" fill="none"/>
<g class="t" font-weight="bold" font-size="26" fill="#000" stroke="#000" stroke-width="0.25">
<text transform="translate(200.40 427.00) scale(1 1.080)" text-anchor="middle">0</text>
<text transform="translate(282.83 427.00) scale(1 1.080)" text-anchor="middle">20</text>
<text transform="translate(365.25 427.00) scale(1 1.080)" text-anchor="middle">40</text>
<text transform="translate(447.68 427.00) scale(1 1.080)" text-anchor="middle">60</text>
<text transform="translate(530.11 427.00) scale(1 1.080)" text-anchor="middle">80</text>
<text transform="translate(612.53 427.00) scale(1 1.080)" text-anchor="middle">100</text>
<text transform="translate(694.96 427.00) scale(1 1.080)" text-anchor="middle">120</text>
<text transform="translate(777.39 427.00) scale(1 1.080)" text-anchor="middle">140</text>
<text transform="translate(194.20 26.00) scale(1 1.080)" text-anchor="end">1</text>
<text transform="translate(194.20 89.65) scale(1 1.080)" text-anchor="end">0.1</text>
<text transform="translate(194.20 153.30) scale(1 1.080)" text-anchor="end">0.01</text>
<text transform="translate(194.20 216.95) scale(1 1.080)" text-anchor="end">0.001</text>
<text transform="translate(143.60 281.50) scale(1 1.080)">10</text>
<text transform="translate(172.90 272.10) scale(1 1.000)" font-size="21.0" font-weight="normal" stroke-width="0.2">−</text>
<text transform="translate(185.30 270.30) scale(1 1.080)" font-size="19.0">4</text>
<text transform="translate(143.60 345.15) scale(1 1.080)">10</text>
<text transform="translate(172.90 335.75) scale(1 1.000)" font-size="21.0" font-weight="normal" stroke-width="0.2">−</text>
<text transform="translate(185.30 333.95) scale(1 1.080)" font-size="19.0">5</text>
<text transform="translate(143.60 408.80) scale(1 1.080)">10</text>
<text transform="translate(172.90 399.40) scale(1 1.000)" font-size="21.0" font-weight="normal" stroke-width="0.2">−</text>
<text transform="translate(185.30 397.60) scale(1 1.080)" font-size="19.0">6</text>
<text transform="translate(-0.30 216.00) scale(1 1.040)">sfe</text>
<text transform="translate(38.80 220.70) scale(1 1.080)" font-size="19.0">SNR</text>
<text transform="translate(78.40 222.70) scale(1 1.000)" font-size="21.0" font-weight="normal" stroke-width="0.2">−</text>
<text transform="translate(92.60 220.70) scale(1 1.080)" font-size="19.0" font-style="italic">C</text>
<text transform="translate(452.80 458.20) scale(1 1.000)" font-style="italic">R</text>
<text transform="translate(470.40 462.90) scale(1 1.080)" font-size="19.0">SNR</text>
<text transform="translate(518.00 458.30) scale(1 1.000)" class="s" font-weight="normal" stroke="none">(</text>
<text transform="translate(527.60 458.30) scale(1 1.000)">pc</text>
<text transform="translate(558.50 458.30) scale(1 1.000)" class="s" font-weight="normal" stroke="none">)</text>
</g>
</svg>
</body></html>
